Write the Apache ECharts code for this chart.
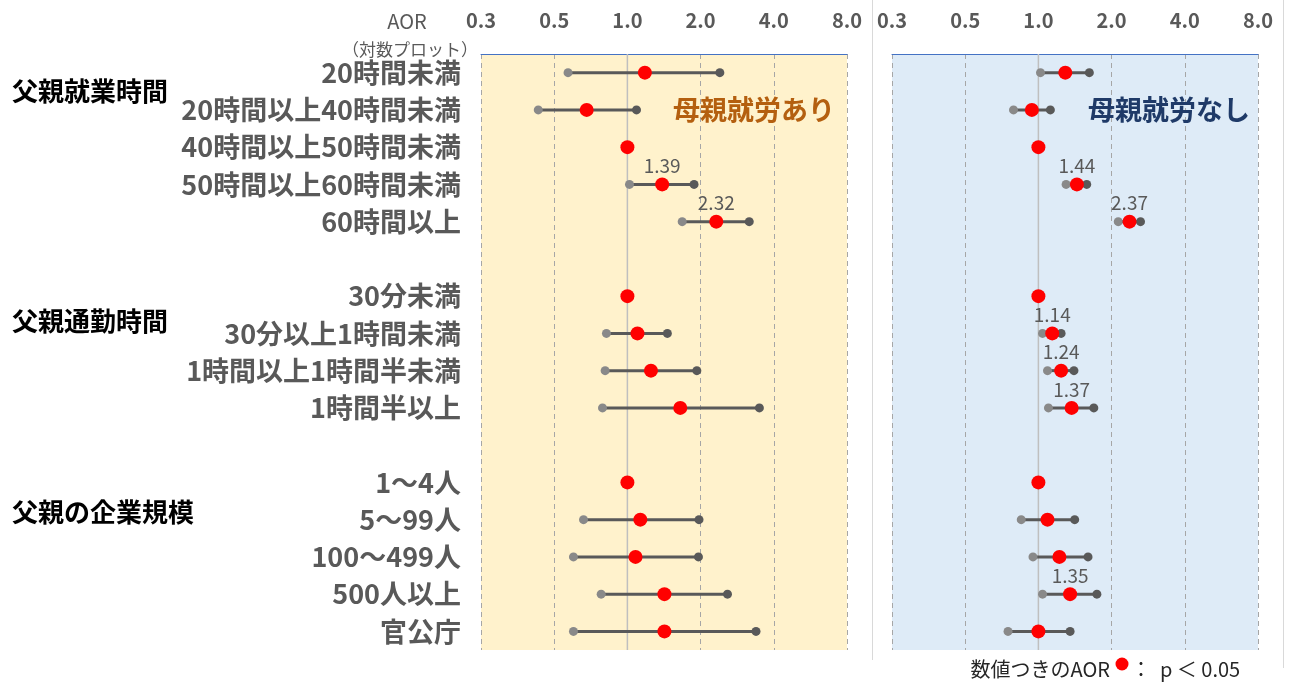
<!DOCTYPE html>
<html>
<head>
<meta charset="utf-8">
<script src="https://cdn.jsdelivr.net/npm/echarts@6/dist/echarts.min.js"></script>
<style>
	html, body { margin: 0; padding: 0; background: #fff; }
	#chart { width: 1290px; height: 684px; }
</style>
</head>
<body>
<div id="chart"></div>
<script>
// 行ラベル（空行はスペースで区別）
const rows = ['20時間未満', '20時間以上40時間未満', '40時間以上50時間未満', '50時間以上60時間未満', '60時間以上', ' ',
	'30分未満', '30分以上1時間未満', '1時間以上1時間半未満', '1時間半以上', '  ',
	'1～4人', '5～99人', '100～499人', '500人以上', '官公庁'];

// 母親就労あり
const aorW = [1.18, 0.68, 1.00, 1.39, 2.32, null, 1.00, 1.10, 1.25, 1.65, null, 1.00, 1.13, 1.08, 1.42, 1.42];
const loW  = [0.57, 0.43, null, 1.02, 1.68, null, null, 0.82, 0.81, 0.79, null, null, 0.66, 0.60, 0.78, 0.60];
const hiW  = [2.40, 1.09, null, 1.88, 3.17, null, null, 1.46, 1.93, 3.49, null, null, 1.97, 1.96, 2.58, 3.38];
const sigW = [0, 0, 0, 1, 1, 0, 0, 0, 0, 0, 0, 0, 0, 0, 0, 0];

// 母親就労なし
const aorN = [1.29, 0.94, 1.00, 1.44, 2.37, null, 1.00, 1.14, 1.24, 1.37, null, 1.00, 1.09, 1.22, 1.35, 1.00];
const loN  = [1.02, 0.79, null, 1.30, 2.13, null, null, 1.04, 1.09, 1.10, null, null, 0.85, 0.95, 1.04, 0.75];
const hiN  = [1.62, 1.12, null, 1.58, 2.63, null, null, 1.24, 1.40, 1.69, null, null, 1.41, 1.60, 1.74, 1.35];
const sigN = [0, 0, 0, 1, 1, 0, 0, 1, 1, 1, 0, 0, 0, 0, 1, 0];

const FONT = '"Noto Sans CJK JP", "Noto Sans", sans-serif';
const GRAY = '#595959';

let chart = echarts.init(document.getElementById('chart'));

function ciData(lo, hi) {
	let out = [];
	lo.forEach((v, i) => { if (v != null) out.push([v, i, hi[i]]); });
	return out;
}
function aorData(aor, sig) {
	let out = [];
	aor.forEach((v, i) => { if (v != null) out.push([v, i, sig[i]]); });
	return out;
}
function renderCI(params, api) {
	let a = api.coord([api.value(0), api.value(1)]);
	let b = api.coord([api.value(2), api.value(1)]);
	return {
		type: 'group',
		children: [
			{ type: 'line', shape: { x1: a[0], y1: a[1], x2: b[0], y2: b[1] }, style: { stroke: GRAY, lineWidth: 3 } },
			{ type: 'circle', shape: { cx: a[0], cy: a[1], r: 4.5 }, style: { fill: '#898989' } },
			{ type: 'circle', shape: { cx: b[0], cy: b[1], r: 4.5 }, style: { fill: GRAY } }
		]
	};
}
// AOR = 1.0 の基準線
function renderRef(params, api) {
	let cs = params.coordSys;
	let p = api.coord([api.value(0), 0]);
	return { type: 'line', shape: { x1: p[0], y1: cs.y, x2: p[0], y2: cs.y + cs.height }, style: { stroke: '#BFBFBF', lineWidth: 1.5 } };
}
function xAxisOf(idx) {
	return {
		type: 'log', logBase: 2, min: 0.25, max: 8, gridIndex: idx, position: 'top',
		axisLine: { show: true, lineStyle: { color: '#4472C4', width: 1 } },
		axisTick: { show: false },
		axisLabel: {
			margin: 24, color: GRAY, fontSize: 20, fontWeight: 'bold', fontFamily: FONT,
			formatter: v => (v < 0.3 ? '0.3' : v.toFixed(1))
		},
		splitLine: { show: true, lineStyle: { color: '#A6A6A6', type: [5, 4], width: 1 } }
	};
}
function yAxisOf(idx, showLabel) {
	return {
		type: 'category', gridIndex: idx, inverse: true, data: rows,
		axisLine: { show: false }, axisTick: { show: false },
		axisLabel: { show: showLabel, margin: 20, color: GRAY, fontSize: 27, fontWeight: 'bold', fontFamily: FONT },
		splitLine: { show: false }
	};
}
function seriesOf(idx, lo, hi, aor, sig) {
	return [
		{
			type: 'custom', xAxisIndex: idx, yAxisIndex: idx, z: 1,
			renderItem: renderRef, encode: { x: 0, y: 1 },
			data: [[1, 0]]
		},
		{
			type: 'custom', xAxisIndex: idx, yAxisIndex: idx, z: 2,
			renderItem: renderCI, encode: { x: 0, y: 1 },
			data: ciData(lo, hi)
		},
		{
			type: 'scatter', xAxisIndex: idx, yAxisIndex: idx, z: 3,
			symbolSize: 14, itemStyle: { color: '#FF0000', opacity: 1 },
			encode: { x: 0, y: 1 },
			label: {
				show: true, position: 'top', distance: 2, color: GRAY, fontSize: 19, fontFamily: FONT,
				formatter: p => (p.value[2] ? p.value[0].toFixed(2) : '')
			},
			data: aorData(aor, sig)
		}
	];
}

let option = {
	animation: false,
	backgroundColor: '#fff',
	grid: [
		{ left: 481, width: 366, top: 54, height: 596, show: true, backgroundColor: '#FFF2CC', borderWidth: 0 },
		{ left: 892, width: 366, top: 54, height: 596, show: true, backgroundColor: '#DEEBF7', borderWidth: 0 }
	],
	xAxis: [xAxisOf(0), xAxisOf(1)],
	yAxis: [yAxisOf(0, true), yAxisOf(1, false)],
	series: [].concat(seriesOf(0, loW, hiW, aorW, sigW), seriesOf(1, loN, hiN, aorN, sigN)),
	graphic: [
		// 右側グラフの枠線
		{ type: 'rect', shape: { x: 872, y: 0, width: 1, height: 660 }, style: { fill: '#D9D9D9' }, z: -1 },
		{ type: 'rect', shape: { x: 1283, y: 0, width: 1, height: 668 }, style: { fill: '#D9D9D9' }, z: -1 },
		{ type: 'text', x: 407, y: 21, style: { text: 'AOR', fill: GRAY, font: '20px ' + FONT, align: 'center', verticalAlign: 'middle' } },
		{ type: 'text', x: 410, y: 50, style: { text: '（対数プロット）', fill: GRAY, font: '17px ' + FONT, align: 'center', verticalAlign: 'middle' } },
		{ type: 'text', x: 12, y: 91, style: { text: '父親就業時間', fill: '#000', font: 'bold 26px ' + FONT, verticalAlign: 'middle' } },
		{ type: 'text', x: 12, y: 321, style: { text: '父親通勤時間', fill: '#000', font: 'bold 26px ' + FONT, verticalAlign: 'middle' } },
		{ type: 'text', x: 12, y: 512, style: { text: '父親の企業規模', fill: '#000', font: 'bold 26px ' + FONT, verticalAlign: 'middle' } },
		{ type: 'text', x: 835, y: 110, z: 10, style: { text: '母親就労あり', fill: '#B45F0F', font: 'bold 27px ' + FONT, align: 'right', verticalAlign: 'middle' } },
		{ type: 'text', x: 1250, y: 110, z: 10, style: { text: '母親就労なし', fill: '#1F3A68', font: 'bold 27px ' + FONT, align: 'right', verticalAlign: 'middle' } },
		// 凡例
		{ type: 'text', x: 1110, y: 669, style: { text: '数値つきのAOR', fill: '#262626', font: '20px ' + FONT, align: 'right', verticalAlign: 'middle' } },
		{ type: 'circle', shape: { cx: 1122, cy: 664, r: 6.5 }, style: { fill: '#FF0000' } },
		{ type: 'text', x: 1131, y: 669, style: { text: '：  p ＜ 0.05', fill: '#262626', font: '20px ' + FONT, verticalAlign: 'middle' } }
	]
};

chart.setOption(option);
</script>
</body>
</html>
